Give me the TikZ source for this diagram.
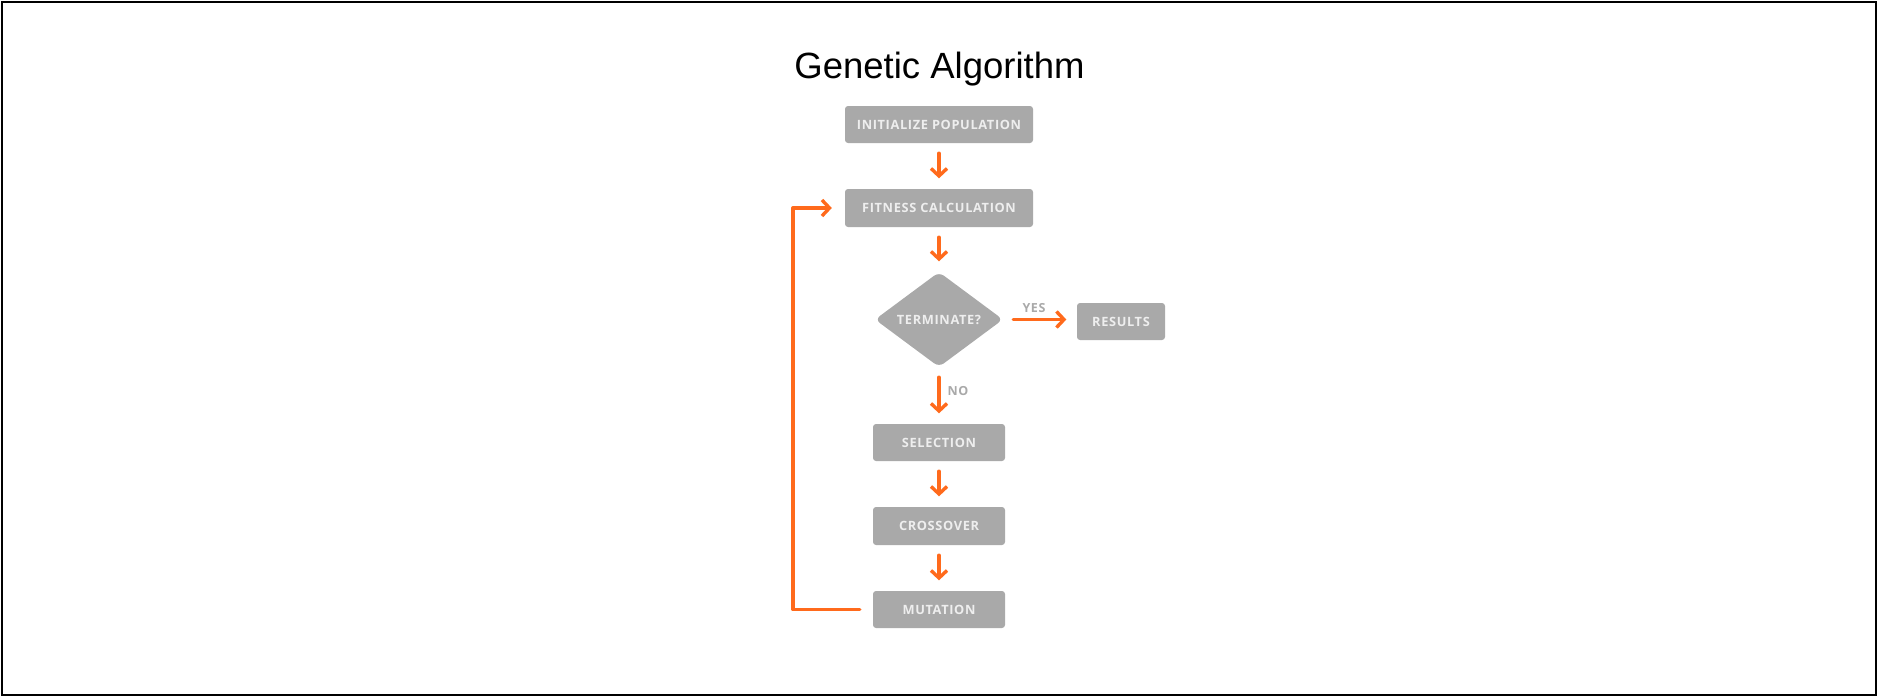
\documentclass[tikz,border=0pt]{standalone}
\usepackage{fontspec}
\setmainfont{Liberation Sans}
\newfontfamily\boxfont[LetterSpace=5]{Open Sans Bold}
\usetikzlibrary{arrows.meta,shapes.geometric}
\definecolor{boxgray}{HTML}{A9A9A9}
\definecolor{boxtext}{HTML}{EEEEEE}
\definecolor{flow}{HTML}{FF6A1C}
\tikzset{
  stepbox/.style={draw=none, fill=boxgray, rounded corners=3pt, inner sep=0pt,
    text=boxtext, font=\boxfont\fontsize{12.8}{14}\selectfont},
  decision/.style={shape=diamond, draw=none, fill=boxgray, rounded corners=6pt,
    inner sep=0pt, minimum width=128pt, minimum height=95pt,
    text=boxtext, font=\boxfont\fontsize{12.8}{14}\selectfont},
  arr/.style={draw=flow, line width=3.4pt, line cap=round, line join=round,
    -{Straight Barb[length=7.5pt,width=16pt,line width=3.4pt]},
    shorten <=10pt, shorten >=10.5pt},
  branch/.style={text=boxgray, font=\boxfont\fontsize{12.5}{14}\selectfont},
}
\begin{document}
\begin{tikzpicture}[x=1pt,y=-1pt]
\useasboundingbox (0,0) rectangle (1877,696);
\draw[line width=2pt] (1.5,1.5) rectangle (1875.5,694.5);

\node[anchor=base, font=\fontsize{36.5}{40}\selectfont] (title) at (939.5,78) {Genetic Algorithm};

\node[stepbox, minimum width=188pt, minimum height=37pt] (init) at (939,124.5) {INITIALIZE POPULATION};
\node[stepbox, minimum width=188pt, minimum height=38pt] (fit) at (939,208) {FITNESS CALCULATION};
\node[decision] (term) at (939,319.5) {TERMINATE?};
\node[stepbox, minimum width=88pt, minimum height=37pt] (res) at (1121,321.5) {RESULTS};
\node[stepbox, minimum width=132pt, minimum height=37pt] (sel) at (939,442.5) {SELECTION};
\node[stepbox, minimum width=132pt, minimum height=38pt] (cross) at (939,526) {CROSSOVER};
\node[stepbox, minimum width=132pt, minimum height=37pt] (mut) at (939,609.5) {MUTATION};

\coordinate (loop) at (793,400);

\draw[arr] (init) -- (fit);
\draw[arr] (fit) -- (term);
\draw[arr] (term.east) -- (term.east -| res.west);
\draw[arr] (term) -- (sel);
\draw[arr] (sel) -- (cross);
\draw[arr] (cross) -- (mut);
\draw[arr, shorten <=13pt, shorten >=13pt] (mut.west) -- (mut.west -| loop) |- (fit.west);

\node[branch] (yes) at (1034,308) {YES};
\node[branch] (no) at (958,391) {NO};
\end{tikzpicture}
\end{document}
